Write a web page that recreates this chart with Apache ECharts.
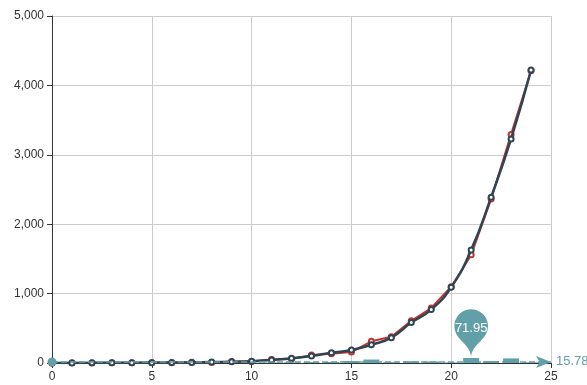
<!DOCTYPE html>
<html>
<head>
<meta charset="utf-8">
<script src="https://cdn.jsdelivr.net/npm/echarts@6/dist/echarts.min.js"></script>
<style>html,body{margin:0;padding:0;background:#fff;}#c{width:587px;height:385px;}</style>
</head>
<body>
<div id="c"></div>
<script>
var xValues = [0,1,2,3,4,5,6,7,8,9,10,11,12,13,14,15,16,17,18,19,20,21,22,23,24];
var observed = [1,3,1,5,3,8,5,12,9,21,22,51,58,113.55,133,158,312,377,608,792,1099,1558.05,2362,3294,4212];
var fitted = [0,1,2,3,4,5,7,9,13,18,27,43,68,101,148,187,262,365,583,770,1091,1630,2390,3228,4222];
var residuals = [1,2,1,2,1,3,2,3,4,3,5,8,10,12.55,15,29,50,12,25,22,8,71.95,28,66,10];
var xTicks = {min: 0, max: 25, interval: 5};
var yTicks = {min: 0, max: 5000, interval: 1000};

function pairs(ys){ return xValues.map(function(x,i){ return [x, ys[i]]; }); }

var chart = echarts.init(document.getElementById('c'));
var font = 'Liberation Sans, Arial, sans-serif';
chart.setOption({
  animation: false,
  textStyle: {fontFamily: font},
  grid: {left: 52, right: 36, top: 16, bottom: 22, containLabel: false},
  xAxis: {
    type: 'value', min: xTicks.min, max: xTicks.max, interval: xTicks.interval,
    axisLine: {lineStyle: {color: '#333', width: 1}},
    axisTick: {show: true, length: 5, lineStyle: {color: '#333'}},
    axisLabel: {color: '#333', fontSize: 12, fontFamily: font, margin: 8},
    splitLine: {show: true, lineStyle: {color: '#ccc'}}
  },
  yAxis: {
    type: 'value', min: yTicks.min, max: yTicks.max, interval: yTicks.interval,
    axisLine: {show: true, lineStyle: {color: '#333', width: 1}},
    axisTick: {show: true, length: 5, lineStyle: {color: '#333'}},
    axisLabel: {color: '#333', fontSize: 12, fontFamily: font, margin: 8,
      formatter: function(v){ return v.toLocaleString('en-US'); }},
    splitLine: {show: true, lineStyle: {color: '#ccc'}}
  },
  series: [
    {
      type: 'bar', data: pairs(residuals), barWidth: 16,
      itemStyle: {color: '#61a0a8'},
      z: 1,
      markPoint: {
        symbol: 'pin', symbolSize: 56,
        itemStyle: {color: '#61a0a8'},
        label: {color: '#fff', fontSize: 13, fontFamily: font},
        data: [{type: 'max'}]
      },
      markLine: {
        symbol: ['circle', 'arrow'], symbolSize: [9, 15],
        precision: 2, silent: true,
        lineStyle: {color: '#61a0a8', type: 'dashed', width: 1.5},
        label: {color: '#61a0a8', fontSize: 13, fontFamily: font, position: 'end'},
        data: [{type: 'average'}]
      }
    },
    {
      type: 'line', data: pairs(observed),
      symbol: 'emptyCircle', symbolSize: 5,
      lineStyle: {color: '#c23531', width: 2},
      itemStyle: {color: '#c23531', borderColor: '#c23531'},
      z: 2
    },
    {
      type: 'line', data: pairs(fitted), smooth: true,
      symbol: 'emptyCircle', symbolSize: 5,
      lineStyle: {color: '#2f4554', width: 2.5},
      itemStyle: {color: '#2f4554', borderColor: '#7a858e'},
      z: 3
    }
  ]
});
</script>
</body>
</html>
